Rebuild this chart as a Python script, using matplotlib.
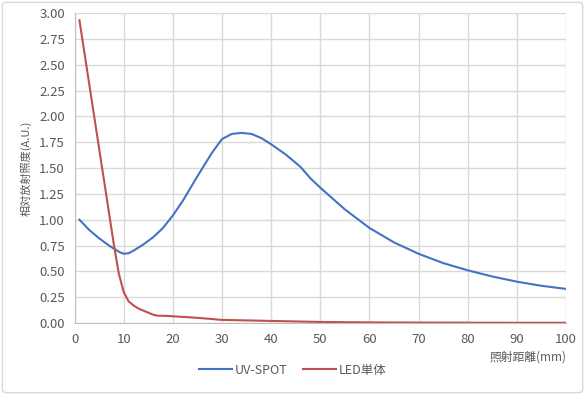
import matplotlib
matplotlib.use("Agg")
import matplotlib.pyplot as plt
from matplotlib.patches import FancyBboxPatch

plt.rcParams['font.family'] = ['Noto Sans CJK JP', 'DejaVu Sans']

# UV-SPOT
uv_x = [1, 3, 5, 7, 9, 10, 11, 12, 14, 16, 18, 20, 22, 25, 28, 30, 32, 34, 36, 38, 40,
        43, 46, 48, 50, 55, 60, 65, 70, 75, 80, 85, 90, 95, 100]
uv_y = [1.00, 0.90, 0.82, 0.75, 0.69, 0.67, 0.675, 0.70, 0.76, 0.83, 0.92, 1.04, 1.18, 1.42, 1.65,
        1.78, 1.83, 1.84, 1.83, 1.79, 1.73, 1.63, 1.51, 1.40, 1.31, 1.10, 0.92, 0.78, 0.67, 0.58,
        0.51, 0.45, 0.40, 0.36, 0.33]

# LED単体
led_x = [1, 2, 3, 4, 5, 6, 7, 8, 9, 10, 11, 12, 13, 14, 15, 16, 17, 18, 20, 25, 30, 40,
         50, 60, 70, 80, 90, 100]
led_y = [2.93, 2.62, 2.31, 2.00, 1.69, 1.38, 1.07, 0.76, 0.48, 0.30, 0.21, 0.17, 0.14, 0.12,
         0.10, 0.08, 0.07, 0.07, 0.065, 0.05, 0.03, 0.02, 0.01, 0.006, 0.004, 0.003, 0.002, 0.002]

fig = plt.figure(figsize=(5.85, 3.95), dpi=100)
ax = fig.add_axes([0.1274, 0.1823, 0.8401, 0.7847])

ax.plot(uv_x, uv_y, color='#4472C4', lw=1.5, label='UV-SPOT')
ax.plot(led_x, led_y, color='#C0504D', lw=1.5, label='LED単体')

ax.set_xlim(0, 100)
ax.set_ylim(0, 3.0)
ax.set_xticks(range(0, 101, 10))
ax.set_yticks([i * 0.25 for i in range(13)])
ax.set_yticklabels(['%.2f' % (i * 0.25) for i in range(13)])
ax.xaxis.grid(True, color='#D9D9D9', lw=1)
ax.yaxis.grid(True, color='#D9D9D9', lw=1)
ax.set_axisbelow(True)
for s in ['top', 'right']:
    ax.spines[s].set_visible(False)
for s in ['left', 'bottom']:
    ax.spines[s].set_color('#BFBFBF')
ax.tick_params(length=0, labelsize=9.5, colors='#595959', pad=7)

ax.set_ylabel('相対放射照度(A.U.)', fontsize=8, color='#595959', labelpad=5)
fig.text(0.9675, 0.096, '照射距離(mm)', fontsize=8.5, color='#595959', ha='right', va='center')

ax.legend(loc='center', bbox_to_anchor=(0.5, 0.063), bbox_transform=fig.transFigure,
          ncol=2, frameon=False, fontsize=9, handlelength=2.7, columnspacing=1.2,
          handletextpad=0.2, labelcolor='#595959')

fig.patches.append(FancyBboxPatch((0.004, 0.006), 0.992, 0.988, boxstyle='round,pad=0,rounding_size=0.008',
                                  transform=fig.transFigure, fill=False, ec='#D9D9D9', lw=1))

fig.savefig('out.png', dpi=100)
